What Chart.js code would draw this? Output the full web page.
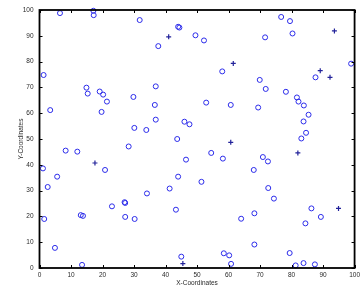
<!DOCTYPE html>
<html>
<head>
<meta charset="utf-8">
<script src="https://cdn.jsdelivr.net/npm/chart.js@4/dist/chart.umd.min.js"></script>
<style>
  html, body { margin: 0; padding: 0; background: #fff; }
  #wrap { width: 363px; height: 290px; position: relative; }
  #err { position: absolute; left: 50px; top: 100px; font: 10px sans-serif; color: red; }
</style>
</head>
<body>
<div id="wrap"><canvas id="myChart" width="363" height="290"></canvas><pre id="err"></pre></div>
<script>
// circle markers
const circleX = [6.5, 17.1, 17.2, 1.3, 14.9, 15.3, 19.1, 20.2, 31.8, 44.0, 44.4, 37.7, 49.5, 52.2, 58.0, 36.9, 29.8,
  76.7, 79.5, 71.6, 80.3, 98.9, 87.6, 69.9, 71.8, 78.2, 81.7, 21.4, 3.4, 19.7, 8.3, 12.0, 20.8, 1.1, 5.6, 2.6,
  28.3, 36.6, 52.9, 60.7, 36.9, 46.0, 47.6, 30.1, 33.9, 43.7, 54.5, 58.2, 46.5, 44.0, 51.4, 41.3,
  82.2, 83.9, 69.4, 85.4, 83.8, 84.6, 83.1, 70.9, 72.5, 68.0, 72.6,
  23.0, 27.0, 27.2, 13.1, 13.8, 1.5, 27.2, 4.9, 13.5, 30.2, 34.1, 43.3, 64.0, 45.0, 58.5, 60.2, 60.8,
  74.4, 68.2, 86.3, 89.3, 84.4, 68.2, 79.4, 81.3, 83.8, 87.4];
const circleY = [98.8, 99.7, 98.0, 74.8, 69.9, 67.6, 68.4, 67.2, 96.1, 93.5, 93.2, 86.0, 90.2, 88.2, 76.2, 70.4, 66.3,
  97.3, 95.7, 89.4, 90.9, 79.2, 73.9, 72.9, 69.4, 68.3, 66.1, 64.5, 61.2, 60.5, 45.5, 45.1, 38.0, 38.6, 35.4, 31.4,
  47.1, 63.2, 64.1, 63.2, 57.5, 56.7, 55.7, 54.3, 53.5, 50.0, 44.6, 42.4, 42.0, 35.4, 33.4, 30.8,
  64.5, 63.0, 62.2, 59.4, 56.8, 52.4, 50.2, 43.0, 41.3, 38.0, 31.0,
  23.9, 25.5, 25.2, 20.5, 20.2, 19.0, 19.8, 7.8, 1.2, 19.0, 28.9, 22.6, 19.1, 4.4, 5.7, 4.9, 1.6,
  26.9, 21.2, 23.1, 19.8, 17.3, 9.1, 5.8, 1.0, 1.9, 1.4];

// plus markers
const plusX = [41.0, 61.5, 93.6, 89.1, 92.2, 17.6, 60.7, 82.0, 94.9, 45.5];
const plusY = [89.6, 79.3, 91.9, 76.5, 73.9, 40.7, 48.7, 44.6, 23.1, 1.7];

const axisMin = 0;
const axisMax = 100;
const axisStep = 10;

const toPoints = (xs, ys) => xs.map((x, i) => ({ x: x, y: ys[i] }));

const tickFont = { family: "Liberation Sans, Arial, sans-serif", size: 6.5 };
const textColor = "#2a2a2a";

// box around the plot plus small inward ticks on all four sides
const boxTicks = {
  id: "boxTicks",
  afterDatasetsDraw(chart) {
    try {
      const c = chart.ctx;
      const a = chart.chartArea;
      const xs = chart.scales.x;
      const ys = chart.scales.y;
      const len = 3;
      c.save();
      c.strokeStyle = "#000";
      c.lineWidth = 1;
      c.beginPath();
      xs.ticks.forEach((t) => {
        const px = Math.round(xs.getPixelForValue(t.value)) + 0.5;
        c.moveTo(px, a.bottom);
        c.lineTo(px, a.bottom - len);
        c.moveTo(px, a.top);
        c.lineTo(px, a.top + len);
      });
      ys.ticks.forEach((t) => {
        const py = Math.round(ys.getPixelForValue(t.value)) + 0.5;
        c.moveTo(a.left, py);
        c.lineTo(a.left + len, py);
        c.moveTo(a.right, py);
        c.lineTo(a.right - len, py);
      });
      c.stroke();
      c.lineWidth = 1.8;
      c.strokeRect(a.left, a.top, a.right - a.left, a.bottom - a.top);
      c.restore();
    } catch (e) {
      document.getElementById("err").textContent = String(e);
    }
  },
};

const ctx = document.getElementById("myChart").getContext("2d");
const myChart = new Chart(ctx, {
  type: "scatter",
  data: {
    datasets: [
      {
        data: toPoints(circleX, circleY),
        pointStyle: "circle",
        pointRadius: 2.5,
        borderWidth: 1,
        borderColor: "#2b2bea",
        backgroundColor: "rgba(0,0,0,0)",
      },
      {
        data: toPoints(plusX, plusY),
        pointStyle: "cross",
        pointRadius: 2.5,
        borderWidth: 1.2,
        borderColor: "#22229a",
        backgroundColor: "#22229a",
      },
    ],
  },
  options: {
    responsive: false,
    animation: false,
    clip: false,
    layout: { padding: { top: 10, right: 7.5, bottom: 0, left: 0 } },
    plugins: { legend: { display: false }, tooltip: { enabled: false } },
    scales: {
      x: {
        type: "linear",
        min: axisMin,
        max: axisMax,
        grid: { display: false, drawTicks: false },
        border: { display: false },
        ticks: { stepSize: axisStep, padding: 3, color: textColor, font: tickFont, maxRotation: 0 },
        title: {
          display: true,
          text: "X-Coordinates",
          color: textColor,
          font: tickFont,
          padding: { top: 0, bottom: 3 },
        },
        afterFit: (scale) => { scale.height = 22; },
      },
      y: {
        type: "linear",
        min: axisMin,
        max: axisMax,
        grid: { display: false, drawTicks: false },
        border: { display: false },
        ticks: { stepSize: axisStep, padding: 6, color: textColor, font: tickFont },
        title: {
          display: true,
          text: "Y-Coordinates",
          color: textColor,
          font: tickFont,
          padding: { top: 17, bottom: 0 },
        },
        afterFit: (scale) => { scale.width = 39.5; },
      },
    },
  },
  plugins: [boxTicks],
});
</script>
</body>
</html>
